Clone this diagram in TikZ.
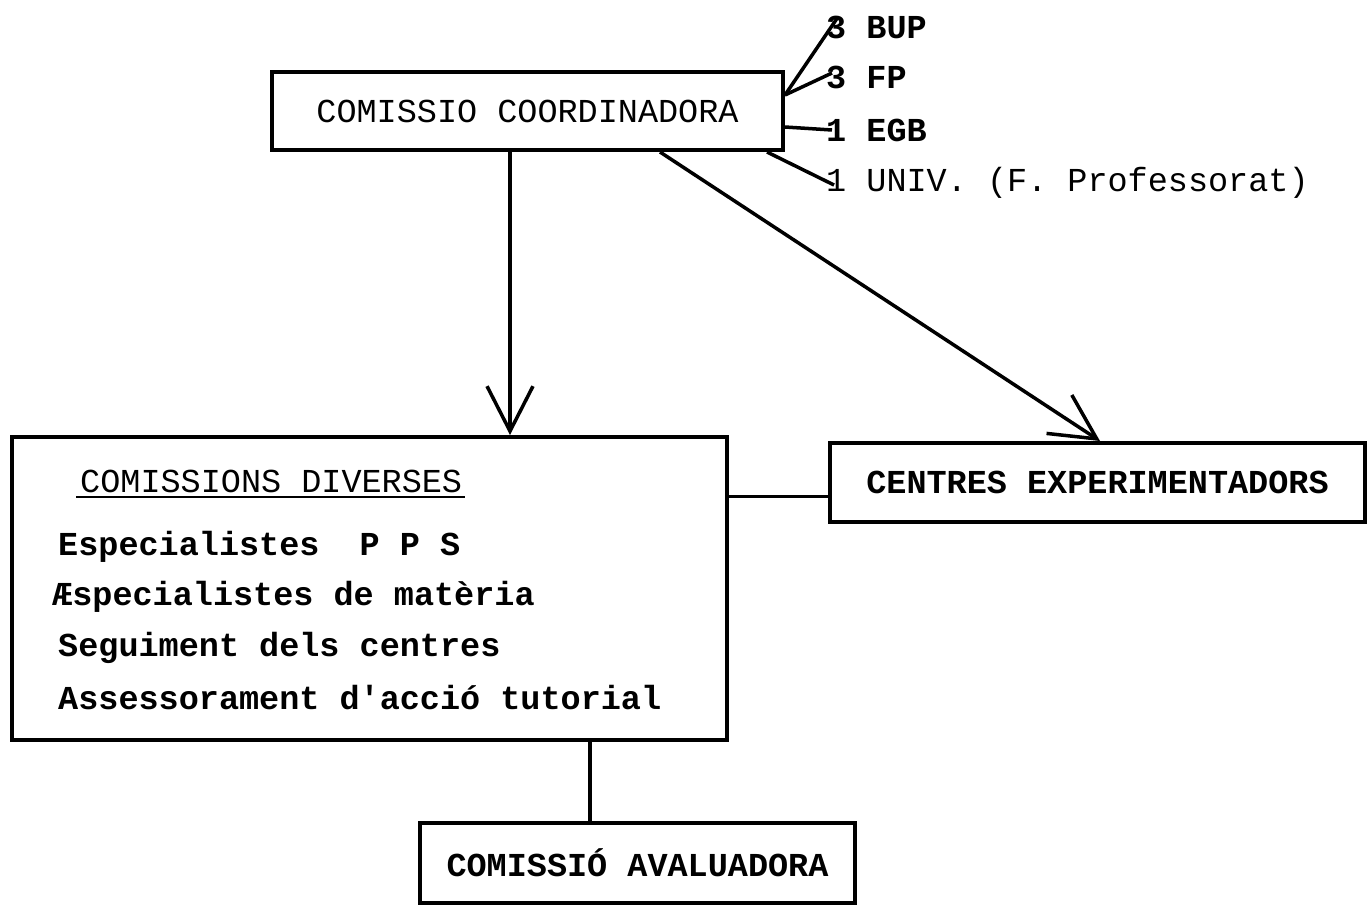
\documentclass[tikz,border=0pt]{standalone}
\usepackage{fontspec}
\setmainfont{Liberation Mono}
\setmonofont{Liberation Mono}
\usetikzlibrary{arrows.meta}
\begin{document}
\begin{tikzpicture}[x=1pt,y=-1pt,
  box/.style={draw,line width=4pt,inner sep=0pt},
  txt/.style={inner sep=0pt,font=\fontsize{33.5}{40}\selectfont},
  btxt/.style={inner sep=0pt,font=\fontsize{33.5}{40}\selectfont\bfseries},
  conn/.style={line width=3.5pt},
  thin/.style={line width=2.5pt},
  arr/.style={line width=3.5pt,-{Straight Barb[length=45pt,width=46pt,line width=3.5pt]}}
]
\useasboundingbox (0,0) rectangle (1368,905);
% boxes
\node[box,minimum width=511pt,minimum height=78pt,txt] (coord) at (527.5,111) {COMISSIO COORDINADORA};
\node[box,minimum width=715pt,minimum height=303pt] (div) at (369.5,588.5) {};
\node[box,minimum width=535pt,minimum height=79pt,btxt] (cen) at (1097.5,482.5) {CENTRES EXPERIMENTADORS};
\node[box,minimum width=435pt,minimum height=80pt,btxt] (aval) at (637.5,863) {COMISSIÓ AVALUADORA};
% text inside diverses
\node[txt,anchor=west] (cd) at (80,481) {COMISSIONS DIVERSES};
\draw[thin] ([shift={(-4pt,-16pt)}]cd.west) -- ([shift={(3pt,-16pt)}]cd.east);
\node[btxt,anchor=west] (l1) at (58,547) {Especialistes\ \ P P S};
\node[btxt,anchor=west] (l2) at (52,597) {Æspecialistes de matèria};
\node[btxt,anchor=west] (l3) at (58,648) {Seguiment dels centres};
\node[btxt,anchor=west] (l4) at (58,698) {\ttfamily Assessorament d'acció tutorial};
% top labels
\node[btxt,anchor=west] (bup) at (826,27) {3 BUP};
\node[btxt,anchor=west] (fp) at (826,77) {3 FP};
\node[btxt,anchor=west] (egb) at (826,130) {1 EGB};
\node[txt,anchor=west] (univ) at (826,183) {1 UNIV. (F. Professorat)};
\draw[conn] ([yshift=16pt]coord.east) -- ([shift={(12pt,10pt)}]bup.west);
\draw[conn] ([yshift=16pt]coord.east) -- ([shift={(6pt,4pt)}]fp.west);
\draw[conn] ([yshift=-16pt]coord.east) -- ([shift={(6pt,0pt)}]egb.west);
\draw[conn] ([xshift=-18pt]coord.south east) -- ([shift={(8pt,-2pt)}]univ.west);
% arrows
\coordinate (a1s) at ([xshift=-17.5pt]coord.south);
\draw[arr] (a1s) -- (a1s |- div.north);
\draw[arr] ([xshift=132.5pt]coord.south) -- ([xshift=2.5pt]cen.north);
% plain connectors
\draw[conn] ([yshift=-14pt]cen.west) -- ([yshift=-14pt]cen.west -| div.east);
\coordinate (avt) at ([xshift=-47.5pt]aval.north);
\draw[conn] (avt) -- (avt |- div.south);
\end{tikzpicture}
\end{document}
